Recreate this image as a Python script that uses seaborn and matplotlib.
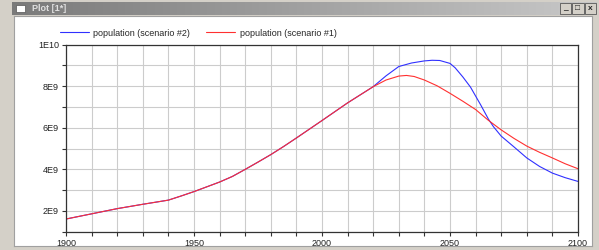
import numpy as np
import pandas as pd
import matplotlib
matplotlib.use("Agg")
import matplotlib.pyplot as plt
import matplotlib.ticker as mticker
from matplotlib.patches import Rectangle
import seaborn as sns

# population (units of 1E9)
years1 = [1900, 1910, 1920, 1930, 1940, 1945, 1950, 1960, 1965, 1970, 1975, 1980,
          1985, 1990, 2000, 2010, 2020, 2025, 2030, 2033, 2036, 2040, 2045, 2050,
          2055, 2060, 2065, 2070, 2075, 2080, 2085, 2090, 2095, 2100]
pop1 = [1.61, 1.86, 2.11, 2.32, 2.52, 2.72, 2.93, 3.39, 3.66, 4.0, 4.35, 4.71,
        5.1, 5.51, 6.35, 7.2, 7.98, 8.3, 8.49, 8.52, 8.47, 8.3, 8.02, 7.66,
        7.28, 6.88, 6.36, 5.9, 5.49, 5.12, 4.82, 4.55, 4.27, 4.03]

years2 = [1900, 1910, 1920, 1930, 1940, 1945, 1950, 1960, 1965, 1970, 1975, 1980,
          1985, 1990, 2000, 2010, 2020, 2025, 2030, 2035, 2040, 2043, 2046, 2050,
          2052, 2055, 2058, 2062, 2065, 2067, 2070, 2075, 2080, 2085, 2090, 2095,
          2100]
pop2 = [1.61, 1.86, 2.11, 2.32, 2.52, 2.72, 2.93, 3.39, 3.66, 4.0, 4.35, 4.71,
        5.1, 5.51, 6.35, 7.2, 7.98, 8.5, 8.95, 9.12, 9.22, 9.25, 9.24, 9.1,
        8.89, 8.45, 7.96, 7.1, 6.42, 6.05, 5.6, 5.08, 4.55, 4.14, 3.82, 3.6,
        3.42]

lab1 = "population (scenario #1)"
lab2 = "population (scenario #2)"

df1 = pd.DataFrame({"year": years1, "pop": np.array(pop1) * 1e9})
df2 = pd.DataFrame({"year": years2, "pop": np.array(pop2) * 1e9})

sns.set_style("white")
plt.rcParams["font.family"] = ["Liberation Sans", "DejaVu Sans"]

W, H = 599, 250
fig = plt.figure(figsize=(W / 100, H / 100), dpi=100)
fig.patch.set_facecolor("#d4d0c8")

def box(x0, y0, x1, y1):
    # pixel box (top-left origin) -> figure fraction rect
    return [x0 / W, 1 - y1 / H, (x1 - x0) / W, (y1 - y0) / H]

# window title bar
tb = fig.add_axes(box(12, 2, 597, 15))
grad = np.linspace(0, 1, 256).reshape(1, -1)
tb.imshow(grad, aspect="auto", cmap=matplotlib.colors.LinearSegmentedColormap.from_list(
    "tb", ["#7a7a7a", "#c8c8c8"]), extent=[0, 1, 0, 1])
tb.set_axis_off()
tb.text(0.035, 0.5, "Plot [1*]", color="#e0e0e0", fontsize=6.5, fontweight="bold",
        va="center", ha="left", transform=tb.transAxes)
tb.add_patch(Rectangle((0.007, 0.2), 0.016, 0.6, facecolor="white", edgecolor="#555555",
                       lw=0.5, transform=tb.transAxes))
for i, s in enumerate(["_", "\u25a1", "x"]):
    x0 = 0.937 + i * 0.021
    tb.add_patch(Rectangle((x0, 0.1), 0.019, 0.8, facecolor="#d4d0c8", edgecolor="#404040",
                           lw=0.5, transform=tb.transAxes))
    tb.text(x0 + 0.0095, 0.5, s, fontsize=6, ha="center", va="center",
            fontweight="bold", transform=tb.transAxes)

# white client area
bg = fig.add_axes(box(14, 16, 592, 246))
bg.set_facecolor("white")
bg.set_xticks([])
bg.set_yticks([])
for sp in bg.spines.values():
    sp.set_color("#a0a0a0")
    sp.set_linewidth(0.8)

ax = fig.add_axes(box(66, 44.7, 578, 231.7))
ax.set_facecolor("white")
sns.lineplot(data=df2, x="year", y="pop", ax=ax, color="#3030ff", lw=0.8, label=lab2)
sns.lineplot(data=df1, x="year", y="pop", ax=ax, color="#ff3030", lw=0.8, label=lab1)

ax.set_xlim(1900, 2100)
ax.set_ylim(1e9, 1e10)
ax.xaxis.set_major_locator(mticker.MultipleLocator(50))
ax.xaxis.set_minor_locator(mticker.MultipleLocator(10))
ax.yaxis.set_major_locator(mticker.MultipleLocator(2e9))
ax.yaxis.set_minor_locator(mticker.MultipleLocator(1e9))
ax.yaxis.set_major_formatter(mticker.FuncFormatter(
    lambda v, p: "1E10" if v >= 1e10 else "%dE9" % round(v / 1e9)))
ax.grid(True, which="both", color="#cccccc", lw=0.8)
ax.set_axisbelow(True)
ax.tick_params(which="both", direction="out", length=3, width=0.8, color="#333333",
               labelsize=6.5, labelcolor="#222222", pad=2, bottom=True, left=True)
for sp in ax.spines.values():
    sp.set_color("#333333")
    sp.set_linewidth(0.9)
ax.set_xlabel("")
ax.set_ylabel("")
ax.legend_.remove()

h, l = ax.get_legend_handles_labels()
fig.legend(h, l, loc="center left", bbox_to_anchor=(56 / W, 1 - 33 / H), ncol=2,
           frameon=False, fontsize=6.5, handlelength=3.2, columnspacing=1.8,
           handletextpad=0.5, borderaxespad=0)

fig.savefig("out.png", dpi=100, facecolor=fig.get_facecolor())
